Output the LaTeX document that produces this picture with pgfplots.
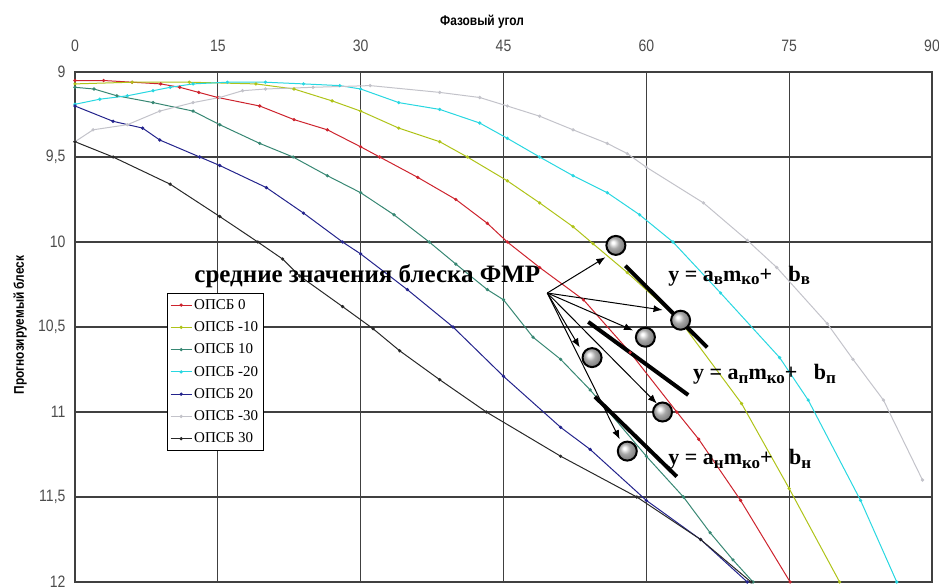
\documentclass[border=0pt]{standalone}
\usepackage{fontspec}
\setmainfont{Liberation Serif}
\newfontfamily\narrow[FakeStretch=0.85]{Liberation Sans}
\usepackage{pgfplots}
\pgfplotsset{compat=1.18}
\usetikzlibrary{arrows.meta}
\definecolor{cRed}{RGB}{205,35,45}
\definecolor{cYel}{RGB}{175,195,25}
\definecolor{cTeal}{RGB}{55,135,115}
\definecolor{cCyan}{RGB}{40,215,225}
\definecolor{cNavy}{RGB}{35,35,140}
\definecolor{cGray}{RGB}{195,195,202}
\definecolor{cBlk}{RGB}{40,40,40}
\pgfdeclareradialshading{myshade}{\pgfpoint{-8bp}{8bp}}{color(0bp)=(white); color(3bp)=(white); color(14bp)=(black!35); color(26bp)=(black!50); color(50bp)=(black!60)}
\pgfdeclareplotmark{myball}{%
  \pgfpathcircle{\pgfpointorigin}{\pgfplotmarksize}%
  \pgfshadepath{myshade}{0}%
  \pgfusepath{discard}%
  \pgfpathcircle{\pgfpointorigin}{\pgfplotmarksize}%
  \pgfsetlinewidth{2pt}\pgfsetstrokecolor{black}%
  \pgfusepath{stroke}}
\newcommand{\sub}[1]{\raisebox{-0.35ex}{\fontsize{17}{17}\selectfont #1}}
\begin{document}
\begin{tikzpicture}
\begin{axis}[
  width=857pt, height=510pt, scale only axis,
  xmin=0, xmax=90, ymin=9, ymax=12, y dir=reverse,
  xtick={0,15,...,90}, ytick={9,9.5,...,12},
  xticklabel pos=upper,
  /pgf/number format/assume math mode=true,
  /pgf/number format/use comma,
  ticklabel style={font=\narrow\fontsize{16.5}{18}\selectfont, text=black!70},
  xticklabel style={yshift=17pt},
  yticklabel style={xshift=-6pt},
  major tick length=0pt,
  grid=major,
  major grid style={draw=black!75, line width=1.3pt},
  axis line style={draw=black!75, line width=1.3pt},
  xlabel={Фазовый угол},
  ylabel={Прогнозируемый блеск},
  xlabel style={font=\narrow\bfseries\fontsize{14}{16}\selectfont, at={(axis description cs:0.475,1.098)}, anchor=center},
  ylabel style={font=\narrow\bfseries\fontsize{14}{16}\selectfont, at={(axis description cs:-0.064,0.504)}, anchor=center},
  legend style={at={(axis description cs:0.107,0.567)}, anchor=north west,
    font=\fontsize{15}{17}\selectfont, draw=black, line width=1pt, fill=white,
    cells={anchor=west}, row sep=6.8pt, inner ysep=4pt, inner xsep=3pt},
  legend image code/.code={\draw[mark repeat=2, mark phase=2, #1] plot coordinates {(0pt,0pt) (10.5pt,0pt) (21pt,0pt)};},
]
\addplot[cRed, line width=1pt, mark=*, mark size=1.1pt] coordinates {
(0,9.05)(3,9.05)(6,9.06)(9,9.07)(11,9.09)(13,9.12)(15,9.15)(19.4,9.2)(23,9.28)(26.5,9.34)(30,9.44)(32,9.5)(36,9.62)(40,9.75)(43.3,9.89)(45.4,10.0)(48.8,10.15)(53.4,10.34)(58.3,10.65)(63.2,11.0)(65.5,11.16)(69.9,11.52)(75.1,12.0)};
\addlegendentry{ОПСБ 0}
\addplot[cYel, line width=1pt, mark=*, mark size=1.1pt] coordinates {
(0,9.07)(6,9.06)(12,9.06)(19,9.07)(23,9.1)(27,9.17)(30,9.23)(34,9.33)(38.3,9.41)(41.2,9.5)(45.4,9.64)(48.8,9.77)(52.3,9.91)(54.4,10.01)(58,10.18)(63.5,10.46)(70,10.95)(75,11.45)(80.3,12.0)};
\addlegendentry{ОПСБ -10}
\addplot[cTeal, line width=1pt, mark=*, mark size=1.1pt] coordinates {
(0,9.09)(2,9.1)(4.4,9.14)(8.2,9.18)(12.4,9.23)(15.2,9.31)(19.4,9.42)(22.9,9.5)(26.5,9.61)(30,9.71)(33.5,9.84)(37.2,10.0)(40,10.13)(43.3,10.28)(45,10.34)(48.1,10.56)(51,10.69)(54.1,10.87)(60,11.26)(63.9,11.5)(66.7,11.71)(69.1,11.87)(71.2,12.0)};
\addlegendentry{ОПСБ 10}
\addplot[cCyan, line width=1pt, mark=*, mark size=1.1pt] coordinates {
(0,9.19)(2.6,9.16)(5.5,9.14)(8.2,9.11)(10,9.09)(12.4,9.07)(16,9.06)(20,9.06)(24,9.07)(27.8,9.08)(30,9.1)(34,9.18)(38.3,9.22)(42.5,9.3)(45.4,9.39)(48.8,9.5)(52.3,9.61)(55.9,9.71)(59.3,9.84)(62.8,10.0)(67.8,10.3)(74,10.68)(77,10.93)(82.5,11.52)(86.3,12.0)};
\addlegendentry{ОПСБ -20}
\addplot[cNavy, line width=1pt, mark=*, mark size=1.1pt] coordinates {
(0,9.2)(4,9.29)(7.1,9.33)(8.9,9.4)(13.1,9.5)(15.2,9.55)(20.1,9.68)(24,9.83)(28.1,10.0)(30,10.07)(34.9,10.28)(39.7,10.5)(45,10.79)(51,11.09)(54.1,11.22)(60,11.52)(65.7,11.75)(70.6,12.0)};
\addlegendentry{ОПСБ 20}
\addplot[cGray, line width=1pt, mark=*, mark size=1.1pt] coordinates {
(0,9.41)(1.9,9.34)(5.5,9.31)(8.9,9.23)(12.4,9.18)(15.2,9.15)(17.6,9.11)(20,9.1)(25,9.09)(31,9.08)(38.3,9.12)(42.5,9.15)(45.4,9.2)(48.8,9.26)(52.3,9.34)(55.9,9.42)(58,9.48)(60,9.56)(66,9.77)(70.6,9.99)(73.7,10.15)(79,10.48)(81.7,10.69)(84.9,10.93)(89,11.4)};
\addlegendentry{ОПСБ -30}
\addplot[cBlk, line width=1pt, mark=*, mark size=1.1pt] coordinates {
(0,9.41)(4,9.5)(10,9.66)(15.2,9.85)(19.2,10.0)(21.8,10.1)(23.6,10.2)(28.1,10.38)(31.3,10.51)(34.1,10.64)(38.3,10.81)(43.2,11.0)(51,11.26)(59,11.5)(65.7,11.75)(71,12.0)};
\addlegendentry{ОПСБ 30}
% thick fit lines
\addplot[black, line width=4pt, forget plot] coordinates {(57.8,10.14)(66.4,10.62)};
\addplot[black, line width=4pt, forget plot] coordinates {(53.9,10.47)(64.4,10.9)};
\addplot[black, line width=4pt, forget plot] coordinates {(54.6,10.91)(63.2,11.38)};
% arrows
\addplot[black, line width=1pt, -{Latex[length=9pt,width=7pt]}, forget plot] coordinates {(49.6,10.3)(55.7,10.09)};
\addplot[black, line width=1pt, -{Latex[length=9pt,width=7pt]}, forget plot] coordinates {(49.6,10.3)(61.7,10.4)};
\addplot[black, line width=1pt, -{Latex[length=9pt,width=7pt]}, forget plot] coordinates {(49.6,10.3)(58.6,10.52)};
\addplot[black, line width=1pt, -{Latex[length=9pt,width=7pt]}, forget plot] coordinates {(49.6,10.3)(53.0,10.62)};
\addplot[black, line width=1pt, -{Latex[length=9pt,width=7pt]}, forget plot] coordinates {(49.6,10.3)(61.1,10.95)};
\addplot[black, line width=1pt, -{Latex[length=9pt,width=7pt]}, forget plot] coordinates {(49.6,10.3)(57.2,11.16)};
% circles
\addplot[only marks, mark=myball, mark size=9.5pt, forget plot] coordinates {(56.8,10.02)(63.6,10.46)(59.9,10.56)(54.3,10.68)(61.7,11.0)(58,11.23)};
% texts
\node[font=\bfseries\fontsize{25}{28}\selectfont, anchor=center] at (axis cs:30.7,10.2) {средние значения блеска ФМР};
\node[font=\bfseries\fontsize{22}{24}\selectfont, anchor=west, inner sep=0pt] at (axis cs:62.3,10.2) {y = a\sub{в}m\sub{ко}+\ \ \ b\sub{в}};
\node[font=\bfseries\fontsize{22}{24}\selectfont, anchor=west, inner sep=0pt] at (axis cs:64.9,10.78) {y = a\sub{п}m\sub{ко}+\ \ \ b\sub{п}};
\node[font=\bfseries\fontsize{22}{24}\selectfont, anchor=west, inner sep=0pt] at (axis cs:62.3,11.28) {y = a\sub{н}m\sub{ко}+\ \ \ b\sub{н}};
\coordinate (BL) at (axis cs:0,12);
\coordinate (TR) at (axis cs:90,9);
\end{axis}
\pgfresetboundingbox
\path ([xshift=-75pt,yshift=-4pt]BL) rectangle ([xshift=7pt,yshift=72pt]TR);
\end{tikzpicture}
\end{document}
